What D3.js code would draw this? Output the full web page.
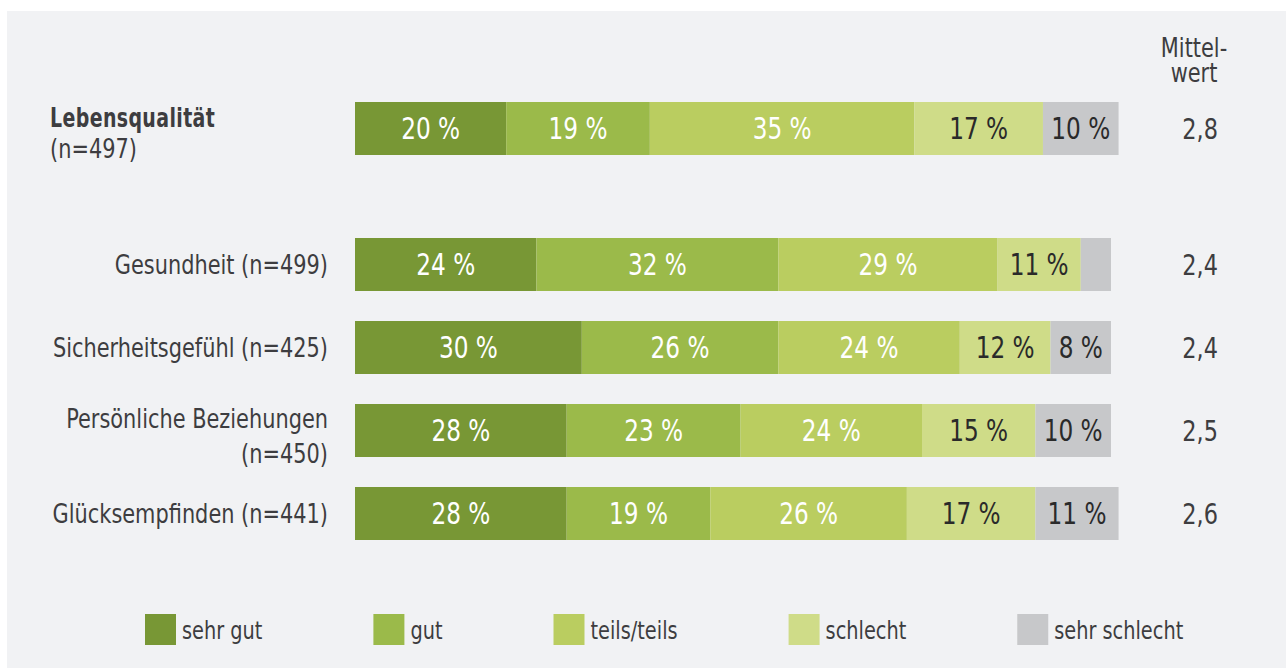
<!DOCTYPE html>
<html lang="de">
<head>
<meta charset="utf-8">
<script src="https://cdn.jsdelivr.net/npm/d3@7"></script>
<style>
  html, body { margin: 0; padding: 0; background: #ffffff; }
  svg { display: block; }
  text { font-family: "Liberation Sans Narrow", "DejaVu Sans Condensed", "Roboto", sans-serif; }
</style>
</head>
<body>
<svg id="chart" width="1286" height="668"></svg>
<script>
// Answer categories (legend order, left to right in each bar)
const categories = ["sehr gut", "gut", "teils/teils", "schlecht", "sehr schlecht"];

// Rated life domains; the first one is the overall rating
const headline = "Lebensqualität";
const domains = ["Gesundheit", "Sicherheitsgefühl", "Persönliche Beziehungen", "Glücksempfinden"];
const sampleSizes = [497, 499, 425, 450, 441];

// Shares in percent per row, in category order
const shareLebensqualitaet = [20, 19, 35, 17, 10];
const shareGesundheit = [24, 32, 29, 11, 4];
const shareSicherheit = [30, 26, 24, 12, 8];
const shareBeziehungen = [28, 23, 24, 15, 10];
const shareGlueck = [28, 19, 26, 17, 11];

// Mean rating per row (1 = sehr gut … 5 = sehr schlecht)
const means = [2.8, 2.4, 2.4, 2.5, 2.6];

const colors = ["#789735", "#9bba4a", "#bacd60", "#cfdc88", "#c7c8ca"];
const labelColors = ["#ffffff", "#ffffff", "#ffffff", "#2a2a2a", "#2a2a2a"];
const textColor = "#3d3d40";

// horizontal squeeze that gives the condensed look of the typography
const SQ = 0.86;
const squeeze = (x, y) => `translate(${x},${y}) scale(${SQ},1)`;

const rowNames = [headline, ...domains];
const shares = [shareLebensqualitaet, shareGesundheit, shareSicherheit, shareBeziehungen, shareGlueck];
const rows = rowNames.map((name, i) => {
  let acc = 0;
  const segs = shares[i].map((v, k) => {
    const s = { cat: categories[k], k, v, x0: acc, x1: acc + v };
    acc += v;
    return s;
  });
  return { name, n: sampleSizes[i], mean: means[i], segs, headline: i === 0 };
});

const svg = d3.select("#chart");

// panel background
svg.append("rect").attr("x", 7).attr("y", 11).attr("width", 1286 - 7).attr("height", 668 - 11)
  .attr("fill", "#f1f2f4");

const x = d3.scaleLinear().domain([0, 100]).range([355, 1111]);

const yHead = d3.scaleBand().domain([headline]).range([102, 155]).padding(0);
const yDom = d3.scaleBand().domain(domains).range([238, 540])
  .paddingInner(30 / 83).paddingOuter(0);
const yPos = name => name === headline ? yHead(name) : yDom(name);
const bh = yDom.bandwidth();

const fmtMean = d3.format(".1f");

const rowG = svg.selectAll("g.row").data(rows).join("g")
  .attr("class", "row")
  .attr("transform", d => `translate(0,${yPos(d.name)})`);

// stacked segments
rowG.selectAll("rect.seg").data(d => d.segs).join("rect")
  .attr("class", "seg")
  .attr("x", s => x(s.x0))
  .attr("width", s => x(s.x1) - x(s.x0))
  .attr("y", 0)
  .attr("height", bh)
  .attr("fill", s => colors[s.k]);

// percentage labels inside segments
rowG.selectAll("text.val").data(d => d.segs.filter(s => s.v >= 6)).join("text")
  .attr("class", "val")
  .attr("transform", s => squeeze((x(s.x0) + x(s.x1)) / 2, bh / 2))
  .attr("dy", "0.36em")
  .attr("text-anchor", "middle")
  .attr("font-size", 30)
  .attr("fill", s => labelColors[s.k])
  .text(s => `${s.v} %`);

// mean values
rowG.append("text")
  .attr("transform", squeeze(1218, bh / 2))
  .attr("dy", "0.36em")
  .attr("text-anchor", "end")
  .attr("font-size", 29)
  .attr("fill", textColor)
  .text(d => fmtMean(d.mean).replace(".", ","));

// row labels
rowG.each(function (d) {
  const g = d3.select(this);
  if (d.headline) {
    g.append("text").attr("transform", `translate(50,25) scale(0.78,1)`)
      .attr("fill", textColor).attr("font-size", 27).attr("font-weight", "bold")
      .attr("letter-spacing", 0.5).text(d.name);
    g.append("text").attr("transform", squeeze(50, 56))
      .attr("fill", textColor).attr("font-size", 27).text(`(n=${d.n})`);
  } else if (d.name === "Persönliche Beziehungen") {
    const t = g.append("text").attr("transform", squeeze(328, 0)).attr("text-anchor", "end")
      .attr("fill", textColor).attr("font-size", 27);
    t.append("tspan").attr("x", 0).attr("y", 24).text(d.name);
    t.append("tspan").attr("x", 0).attr("y", 59).text(`(n=${d.n})`);
  } else {
    g.append("text").attr("transform", squeeze(328, bh / 2)).attr("dy", "0.36em")
      .attr("text-anchor", "end").attr("fill", textColor).attr("font-size", 27)
      .text(`${d.name} (n=${d.n})`);
  }
});

// column header
const head = svg.append("text").attr("transform", squeeze(1194, 0))
  .attr("text-anchor", "middle").attr("fill", textColor).attr("font-size", 27);
head.append("tspan").attr("x", 0).attr("y", 57).text("Mittel-");
head.append("tspan").attr("x", 0).attr("y", 82).text("wert");

// legend: swatch + label, items laid out in a row with a fixed gap
const legendStart = 145, legendGap = 111, swatch = 31, swatchGap = 6;
const lg = svg.selectAll("g.legend").data(categories).join("g").attr("class", "legend");
lg.append("rect").attr("width", swatch).attr("height", swatch).attr("fill", (c, i) => colors[i]);
lg.append("text")
  .attr("transform", squeeze(swatch + swatchGap, swatch / 2))
  .attr("dy", "0.36em")
  .attr("font-size", 25).attr("fill", textColor).text(c => c);
let cursor = legendStart;
lg.each(function () {
  const g = d3.select(this);
  g.attr("transform", `translate(${cursor},614)`);
  const w = g.select("text").node().getComputedTextLength() * SQ;
  cursor += swatch + swatchGap + w + legendGap;
});
</script>
</body>
</html>
